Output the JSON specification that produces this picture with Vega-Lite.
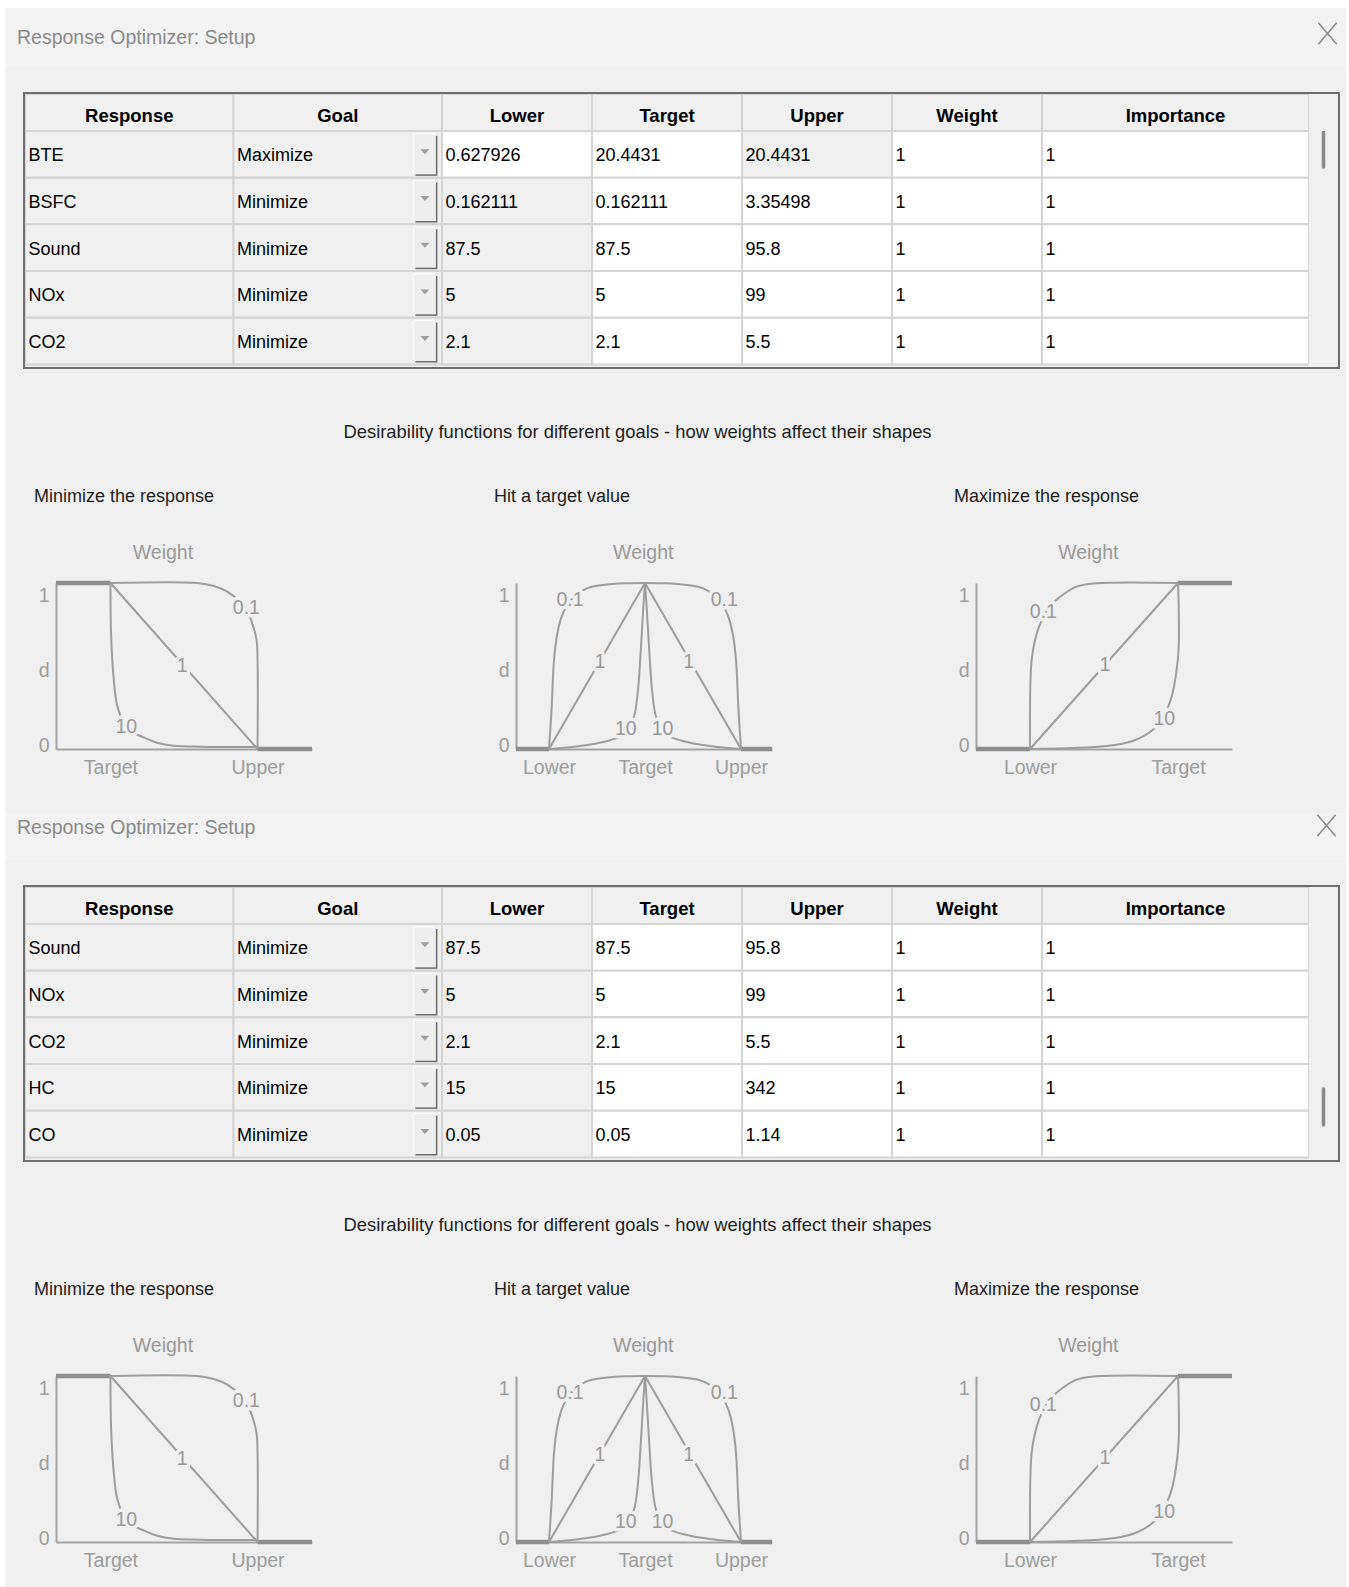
{
  "$schema": "https://vega.github.io/schema/vega-lite/v6.json",
  "background": "#f0f0f0",
  "padding": 0,
  "spacing": 0,
  "config": {
    "view": {"stroke": null, "fill": "#f0f0f0"},
    "font": "Liberation Sans, Arial, sans-serif",
    "concat": {"spacing": 0},
    "title": {"fontSize": 18, "fontWeight": "normal", "color": "#1e1e1e", "anchor": "start", "frame": "group", "offset": 37, "dx": -22},
    "axis": {"domainColor": "#a3a3a3", "domainWidth": 2, "ticks": false, "grid": false, "labelFontSize": 19.5, "labelColor": "#9d9d9d", "labelFlush": false, "labelOverlap": false, "labelBound": false},
    "axisX": {"labelPadding": 9},
    "axisY": {"labelPadding": 7}
  },
  "datasets": {
    "tbl": [
      {"t": 1, "r": 1, "Response": "BTE", "Goal": "Maximize", "Lower": "0.627926", "Target": "20.4431", "Upper": "20.4431", "Weight": "1", "Importance": "1"},
      {"t": 1, "r": 2, "Response": "BSFC", "Goal": "Minimize", "Lower": "0.162111", "Target": "0.162111", "Upper": "3.35498", "Weight": "1", "Importance": "1"},
      {"t": 1, "r": 3, "Response": "Sound", "Goal": "Minimize", "Lower": "87.5", "Target": "87.5", "Upper": "95.8", "Weight": "1", "Importance": "1"},
      {"t": 1, "r": 4, "Response": "NOx", "Goal": "Minimize", "Lower": "5", "Target": "5", "Upper": "99", "Weight": "1", "Importance": "1"},
      {"t": 1, "r": 5, "Response": "CO2", "Goal": "Minimize", "Lower": "2.1", "Target": "2.1", "Upper": "5.5", "Weight": "1", "Importance": "1"},
      {"t": 2, "r": 1, "Response": "Sound", "Goal": "Minimize", "Lower": "87.5", "Target": "87.5", "Upper": "95.8", "Weight": "1", "Importance": "1"},
      {"t": 2, "r": 2, "Response": "NOx", "Goal": "Minimize", "Lower": "5", "Target": "5", "Upper": "99", "Weight": "1", "Importance": "1"},
      {"t": 2, "r": 3, "Response": "CO2", "Goal": "Minimize", "Lower": "2.1", "Target": "2.1", "Upper": "5.5", "Weight": "1", "Importance": "1"},
      {"t": 2, "r": 4, "Response": "HC", "Goal": "Minimize", "Lower": "15", "Target": "15", "Upper": "342", "Weight": "1", "Importance": "1"},
      {"t": 2, "r": 5, "Response": "CO", "Goal": "Minimize", "Lower": "0.05", "Target": "0.05", "Upper": "1.14", "Weight": "1", "Importance": "1"}
    ],
    "curves": [
      {"p": "min", "w": "1", "s": "a", "i": 0, "x": 0, "d": 1},
      {"p": "min", "w": "1", "s": "a", "i": 1, "x": 1, "d": 0},
      {"p": "min", "w": "0.1", "s": "a", "i": 0, "x": 0, "d": 1},
      {"p": "min", "w": "0.1", "s": "a", "i": 1, "x": 0.59, "d": 1},
      {"p": "min", "w": "0.1", "s": "a", "i": 2, "x": 0.703, "d": 0.982},
      {"p": "min", "w": "0.1", "s": "a", "i": 3, "x": 0.794, "d": 0.948},
      {"p": "min", "w": "0.1", "s": "a", "i": 4, "x": 0.87, "d": 0.895},
      {"p": "min", "w": "0.1", "s": "a", "i": 5, "x": 0.93, "d": 0.83},
      {"p": "min", "w": "0.1", "s": "a", "i": 6, "x": 0.964, "d": 0.757},
      {"p": "min", "w": "0.1", "s": "a", "i": 7, "x": 0.993, "d": 0.657},
      {"p": "min", "w": "0.1", "s": "a", "i": 8, "x": 1, "d": 0.536},
      {"p": "min", "w": "0.1", "s": "a", "i": 9, "x": 1, "d": 0},
      {"p": "min", "w": "10", "s": "a", "i": 0, "x": 0, "d": 1},
      {"p": "min", "w": "10", "s": "a", "i": 1, "x": 0.005, "d": 0.676},
      {"p": "min", "w": "10", "s": "a", "i": 2, "x": 0.023, "d": 0.416},
      {"p": "min", "w": "10", "s": "a", "i": 3, "x": 0.045, "d": 0.265},
      {"p": "min", "w": "10", "s": "a", "i": 4, "x": 0.09, "d": 0.16},
      {"p": "min", "w": "10", "s": "a", "i": 5, "x": 0.15, "d": 0.1},
      {"p": "min", "w": "10", "s": "a", "i": 6, "x": 0.215, "d": 0.074},
      {"p": "min", "w": "10", "s": "a", "i": 7, "x": 0.317, "d": 0.038},
      {"p": "min", "w": "10", "s": "a", "i": 8, "x": 0.43, "d": 0.02},
      {"p": "min", "w": "10", "s": "a", "i": 9, "x": 0.61, "d": 0.014},
      {"p": "min", "w": "10", "s": "a", "i": 10, "x": 1, "d": 0.012},
      {"p": "tgt", "w": "1", "s": "L", "i": 0, "x": -1, "d": 0},
      {"p": "tgt", "w": "1", "s": "L", "i": 1, "x": 0, "d": 1},
      {"p": "tgt", "w": "1", "s": "R", "i": 0, "x": 0, "d": 1},
      {"p": "tgt", "w": "1", "s": "R", "i": 1, "x": 1, "d": 0},
      {"p": "tgt", "w": "0.1", "s": "L", "i": 0, "x": -1, "d": 0},
      {"p": "tgt", "w": "0.1", "s": "L", "i": 1, "x": -0.972, "d": 0.255},
      {"p": "tgt", "w": "0.1", "s": "L", "i": 2, "x": -0.948, "d": 0.536},
      {"p": "tgt", "w": "0.1", "s": "L", "i": 3, "x": -0.913, "d": 0.697},
      {"p": "tgt", "w": "0.1", "s": "L", "i": 4, "x": -0.868, "d": 0.797},
      {"p": "tgt", "w": "0.1", "s": "L", "i": 5, "x": -0.799, "d": 0.878},
      {"p": "tgt", "w": "0.1", "s": "L", "i": 6, "x": -0.694, "d": 0.938},
      {"p": "tgt", "w": "0.1", "s": "L", "i": 7, "x": -0.607, "d": 0.968},
      {"p": "tgt", "w": "0.1", "s": "L", "i": 8, "x": -0.434, "d": 0.988},
      {"p": "tgt", "w": "0.1", "s": "L", "i": 9, "x": -0.19, "d": 0.998},
      {"p": "tgt", "w": "0.1", "s": "L", "i": 10, "x": 0, "d": 1},
      {"p": "tgt", "w": "0.1", "s": "R", "i": 0, "x": 1, "d": 0},
      {"p": "tgt", "w": "0.1", "s": "R", "i": 1, "x": 0.972, "d": 0.255},
      {"p": "tgt", "w": "0.1", "s": "R", "i": 2, "x": 0.948, "d": 0.536},
      {"p": "tgt", "w": "0.1", "s": "R", "i": 3, "x": 0.913, "d": 0.697},
      {"p": "tgt", "w": "0.1", "s": "R", "i": 4, "x": 0.868, "d": 0.797},
      {"p": "tgt", "w": "0.1", "s": "R", "i": 5, "x": 0.799, "d": 0.878},
      {"p": "tgt", "w": "0.1", "s": "R", "i": 6, "x": 0.694, "d": 0.938},
      {"p": "tgt", "w": "0.1", "s": "R", "i": 7, "x": 0.607, "d": 0.968},
      {"p": "tgt", "w": "0.1", "s": "R", "i": 8, "x": 0.434, "d": 0.988},
      {"p": "tgt", "w": "0.1", "s": "R", "i": 9, "x": 0.19, "d": 0.998},
      {"p": "tgt", "w": "0.1", "s": "R", "i": 10, "x": 0, "d": 1},
      {"p": "tgt", "w": "10", "s": "L", "i": 0, "x": -1, "d": 0},
      {"p": "tgt", "w": "10", "s": "L", "i": 1, "x": -0.677, "d": 0.018},
      {"p": "tgt", "w": "10", "s": "L", "i": 2, "x": -0.382, "d": 0.05},
      {"p": "tgt", "w": "10", "s": "L", "i": 3, "x": -0.226, "d": 0.084},
      {"p": "tgt", "w": "10", "s": "L", "i": 4, "x": -0.139, "d": 0.155},
      {"p": "tgt", "w": "10", "s": "L", "i": 5, "x": -0.104, "d": 0.219},
      {"p": "tgt", "w": "10", "s": "L", "i": 6, "x": -0.07, "d": 0.375},
      {"p": "tgt", "w": "10", "s": "L", "i": 7, "x": -0.042, "d": 0.616},
      {"p": "tgt", "w": "10", "s": "L", "i": 8, "x": -0.017, "d": 0.857},
      {"p": "tgt", "w": "10", "s": "L", "i": 9, "x": 0, "d": 1},
      {"p": "tgt", "w": "10", "s": "R", "i": 0, "x": 1, "d": 0},
      {"p": "tgt", "w": "10", "s": "R", "i": 1, "x": 0.677, "d": 0.018},
      {"p": "tgt", "w": "10", "s": "R", "i": 2, "x": 0.382, "d": 0.05},
      {"p": "tgt", "w": "10", "s": "R", "i": 3, "x": 0.226, "d": 0.084},
      {"p": "tgt", "w": "10", "s": "R", "i": 4, "x": 0.139, "d": 0.155},
      {"p": "tgt", "w": "10", "s": "R", "i": 5, "x": 0.104, "d": 0.219},
      {"p": "tgt", "w": "10", "s": "R", "i": 6, "x": 0.07, "d": 0.375},
      {"p": "tgt", "w": "10", "s": "R", "i": 7, "x": 0.042, "d": 0.616},
      {"p": "tgt", "w": "10", "s": "R", "i": 8, "x": 0.017, "d": 0.857},
      {"p": "tgt", "w": "10", "s": "R", "i": 9, "x": 0, "d": 1},
      {"p": "max", "w": "1", "s": "a", "i": 0, "x": 0, "d": 0},
      {"p": "max", "w": "1", "s": "a", "i": 1, "x": 1, "d": 1},
      {"p": "max", "w": "0.1", "s": "a", "i": 0, "x": 0, "d": 0},
      {"p": "max", "w": "0.1", "s": "a", "i": 1, "x": 0.002, "d": 0.375},
      {"p": "max", "w": "0.1", "s": "a", "i": 2, "x": 0.011, "d": 0.536},
      {"p": "max", "w": "0.1", "s": "a", "i": 3, "x": 0.034, "d": 0.657},
      {"p": "max", "w": "0.1", "s": "a", "i": 4, "x": 0.063, "d": 0.741},
      {"p": "max", "w": "0.1", "s": "a", "i": 5, "x": 0.124, "d": 0.848},
      {"p": "max", "w": "0.1", "s": "a", "i": 6, "x": 0.191, "d": 0.908},
      {"p": "max", "w": "0.1", "s": "a", "i": 7, "x": 0.315, "d": 0.978},
      {"p": "max", "w": "0.1", "s": "a", "i": 8, "x": 0.45, "d": 0.998},
      {"p": "max", "w": "0.1", "s": "a", "i": 9, "x": 1, "d": 1},
      {"p": "max", "w": "10", "s": "a", "i": 0, "x": 0, "d": 0},
      {"p": "max", "w": "10", "s": "a", "i": 1, "x": 0.518, "d": 0.018},
      {"p": "max", "w": "10", "s": "a", "i": 2, "x": 0.698, "d": 0.05},
      {"p": "max", "w": "10", "s": "a", "i": 3, "x": 0.822, "d": 0.11},
      {"p": "max", "w": "10", "s": "a", "i": 4, "x": 0.901, "d": 0.195},
      {"p": "max", "w": "10", "s": "a", "i": 5, "x": 0.957, "d": 0.315},
      {"p": "max", "w": "10", "s": "a", "i": 6, "x": 0.991, "d": 0.476},
      {"p": "max", "w": "10", "s": "a", "i": 7, "x": 1.005, "d": 0.616},
      {"p": "max", "w": "10", "s": "a", "i": 8, "x": 1.005, "d": 0.85},
      {"p": "max", "w": "10", "s": "a", "i": 9, "x": 1, "d": 1}
    ],
    "flat": [
      {"p": "min", "seg": "a", "x": -0.37, "d": 1},
      {"p": "min", "seg": "a", "x": 0, "d": 1},
      {"p": "min", "seg": "b", "x": 1, "d": 0},
      {"p": "min", "seg": "b", "x": 1.37, "d": 0},
      {"p": "tgt", "seg": "a", "x": -1.344, "d": 0},
      {"p": "tgt", "seg": "a", "x": -1, "d": 0},
      {"p": "tgt", "seg": "b", "x": 1, "d": 0},
      {"p": "tgt", "seg": "b", "x": 1.323, "d": 0},
      {"p": "max", "seg": "a", "x": -0.365, "d": 0},
      {"p": "max", "seg": "a", "x": 0, "d": 0},
      {"p": "max", "seg": "b", "x": 1, "d": 1},
      {"p": "max", "seg": "b", "x": 1.365, "d": 1}
    ],
    "labels": [
      {"p": "min", "t": "Weight", "x": 0.357, "d": 1.18},
      {"p": "min", "t": "0.1", "x": 0.924, "d": 0.852},
      {"p": "min", "t": "1", "x": 0.488, "d": 0.501},
      {"p": "min", "t": "10", "x": 0.108, "d": 0.134},
      {"p": "tgt", "t": "Weight", "x": -0.018, "d": 1.18},
      {"p": "tgt", "t": "0.1", "x": -0.781, "d": 0.898},
      {"p": "tgt", "t": "0.1", "x": 0.825, "d": 0.898},
      {"p": "tgt", "t": "1", "x": -0.469, "d": 0.526},
      {"p": "tgt", "t": "1", "x": 0.455, "d": 0.526},
      {"p": "tgt", "t": "10", "x": -0.2, "d": 0.119},
      {"p": "tgt", "t": "10", "x": 0.182, "d": 0.119},
      {"p": "max", "t": "Weight", "x": 0.394, "d": 1.18},
      {"p": "max", "t": "0.1", "x": 0.09, "d": 0.827},
      {"p": "max", "t": "1", "x": 0.507, "d": 0.506},
      {"p": "max", "t": "10", "x": 0.907, "d": 0.18}
    ]
  },
  "hconcat": [
    {"width": 5, "height": 1587, "view": {"fill": "#ffffff"}, "data": {"values": []}, "mark": "point"},
    {
      "spacing": 0,
      "vconcat": [
        {"width": 1341, "height": 8, "view": {"fill": "#ffffff"}, "data": {"values": []}, "mark": "point"},
        {
          "width": 1341, "height": 59, "view": {"fill": "#f3f3f3"},
          "data": {"values": [{"title": "Response Optimizer: Setup"}]},
          "encoding": {"y": {"datum": 0.5, "type": "quantitative", "scale": {"domain": [0, 1]}, "axis": null}},
          "layer": [
            {"mark": {"type": "text", "align": "left", "baseline": "middle", "dx": 12, "fontSize": 19.5, "color": "#8a8a8a", "clip": true},
             "encoding": {"x": {"datum": 0, "type": "quantitative", "scale": {"domain": [0, 1]}, "axis": null}, "text": {"field": "title", "type": "nominal"}}},
            {"mark": {"type": "point", "shape": "M-0.86,-1L0.86,1M-0.86,1L0.86,-1", "size": 454, "filled": false, "color": "#8c8c8c", "opacity": 1, "strokeWidth": 1.6, "xOffset": -18.5, "yOffset": -4, "clip": true},
             "encoding": {"x": {"datum": 1, "type": "quantitative", "scale": {"domain": [0, 1]}, "axis": null}}}
          ]
        },
        {"width": 1341, "height": 25, "data": {"values": []}, "mark": "point"},
        {"spacing": 0, "bounds": "flush", "hconcat": [
          {"width": 18, "height": 2, "data": {"values": []}, "mark": "point"},
          {"width": 1317, "height": 2, "view": {"fill": "#6e6e6e"}, "data": {"values": []}, "mark": "point"},
          {"width": 6, "height": 2, "data": {"values": []}, "mark": "point"}
        ]},
        {"spacing": 0, "bounds": "flush", "hconcat": [
          {"width": 18, "height": 37, "data": {"values": []}, "mark": "point"},
          {"width": 2, "height": 37, "view": {"fill": "#6e6e6e"}, "data": {"values": []}, "mark": "point"},
          {"width": 417, "height": 37, "data": {"values": [{"col": "Response"}, {"col": "Goal"}]},
           "encoding": {"x": {"field": "col", "type": "nominal", "scale": {"domain": ["Response", "Goal"], "paddingInner": 0, "paddingOuter": 0}, "axis": null}},
           "layer": [
             {"mark": {"type": "rect", "fill": "#f0f0f0", "stroke": "#d4d4d4", "strokeWidth": 2, "clip": true}},
             {"mark": {"type": "text", "fontWeight": "bold", "fontSize": 18.5, "color": "#000000", "dy": 3, "clip": true}, "encoding": {"text": {"field": "col", "type": "nominal"}}}
           ]},
          {"width": 600, "height": 37, "data": {"values": [{"col": "Lower"}, {"col": "Target"}, {"col": "Upper"}, {"col": "Weight"}]},
           "encoding": {"x": {"field": "col", "type": "nominal", "scale": {"domain": ["Lower", "Target", "Upper", "Weight"], "paddingInner": 0, "paddingOuter": 0}, "axis": null}},
           "layer": [
             {"mark": {"type": "rect", "fill": "#f0f0f0", "stroke": "#d4d4d4", "strokeWidth": 2, "clip": true}},
             {"mark": {"type": "text", "fontWeight": "bold", "fontSize": 18.5, "color": "#000000", "dy": 3, "clip": true}, "encoding": {"text": {"field": "col", "type": "nominal"}}}
           ]},
          {"width": 267, "height": 37, "data": {"values": [{"col": "Importance"}]},
           "encoding": {"x": {"field": "col", "type": "nominal", "scale": {"domain": ["Importance"], "paddingInner": 0, "paddingOuter": 0}, "axis": null}},
           "layer": [
             {"mark": {"type": "rect", "fill": "#f0f0f0", "stroke": "#d4d4d4", "strokeWidth": 2, "clip": true}},
             {"mark": {"type": "text", "fontWeight": "bold", "fontSize": 18.5, "color": "#000000", "dy": 3, "clip": true}, "encoding": {"text": {"field": "col", "type": "nominal"}}}
           ]},
          {"width": 29, "height": 37, "data": {"values": []}, "mark": "point"},
          {"width": 2, "height": 37, "view": {"fill": "#6e6e6e"}, "data": {"values": []}, "mark": "point"},
          {"width": 6, "height": 37, "data": {"values": []}, "mark": "point"}
        ]},
        {"spacing": 0, "bounds": "flush", "hconcat": [
          {"width": 18, "height": 236, "data": {"values": []}, "mark": "point"},
          {"width": 2, "height": 236, "view": {"fill": "#6e6e6e"}, "data": {"values": []}, "mark": "point"},
          {"width": 417, "height": 236, "data": {"name": "tbl"},
           "transform": [{"filter": "datum.t == 1"}, {"fold": ["Response", "Goal"], "as": ["col", "v"]}],
           "encoding": {
             "x": {"field": "col", "type": "nominal", "scale": {"domain": ["Response", "Goal"], "paddingInner": 0, "paddingOuter": 0}, "axis": null},
             "y": {"field": "r", "type": "ordinal", "scale": {"domain": [1, 2, 3, 4, 5], "paddingInner": 0, "paddingOuter": 0.028, "align": 0}, "axis": null}
           },
           "layer": [
             {"mark": {"type": "rect", "stroke": "#d4d4d4", "strokeWidth": 2, "fill": "#f0f0f0", "clip": true}},
             {"mark": {"type": "text", "align": "left", "dx": 3.5, "dy": 2, "fontSize": 18, "color": "#000000", "clip": true},
              "encoding": {"x": {"field": "col", "type": "nominal", "bandPosition": 0, "scale": {"domain": ["Response", "Goal"], "paddingInner": 0, "paddingOuter": 0}, "axis": null}, "text": {"field": "v", "type": "nominal"}}},
             {"transform": [{"filter": "datum.col == 'Goal'"}],
              "mark": {"type": "point", "shape": "M-0.55,-1H0.55V1H-0.55Z", "size": 1600, "filled": true, "color": "#ffffff", "opacity": 1, "xOffset": -1, "yOffset": -1, "clip": true},
              "encoding": {"x": {"field": "col", "type": "nominal", "bandPosition": 0.918, "scale": {"domain": ["Response", "Goal"], "paddingInner": 0, "paddingOuter": 0}, "axis": null}}},
             {"transform": [{"filter": "datum.col == 'Goal'"}],
              "mark": {"type": "point", "shape": "M-0.55,-1H0.55V1H-0.55Z", "size": 1600, "filled": true, "color": "#6b6b6b", "opacity": 1, "xOffset": 1.5, "yOffset": 1.5, "clip": true},
              "encoding": {"x": {"field": "col", "type": "nominal", "bandPosition": 0.918, "scale": {"domain": ["Response", "Goal"], "paddingInner": 0, "paddingOuter": 0}, "axis": null}}},
             {"transform": [{"filter": "datum.col == 'Goal'"}],
              "mark": {"type": "point", "shape": "M-0.55,-1H0.55V1H-0.55Z", "size": 1600, "filled": true, "color": "#eeeeee", "opacity": 1, "clip": true},
              "encoding": {"x": {"field": "col", "type": "nominal", "bandPosition": 0.918, "scale": {"domain": ["Response", "Goal"], "paddingInner": 0, "paddingOuter": 0}, "axis": null}}},
             {"transform": [{"filter": "datum.col == 'Goal'"}],
              "mark": {"type": "point", "shape": "M-1,-0.55L1,-0.55L0,0.55Z", "size": 81, "filled": true, "color": "#9e9e9e", "opacity": 1, "yOffset": -2.5, "clip": true},
              "encoding": {"x": {"field": "col", "type": "nominal", "bandPosition": 0.918, "scale": {"domain": ["Response", "Goal"], "paddingInner": 0, "paddingOuter": 0}, "axis": null}}}
           ]},
          {"width": 600, "height": 236, "data": {"name": "tbl"},
           "transform": [{"filter": "datum.t == 1"}, {"fold": ["Lower", "Target", "Upper", "Weight"], "as": ["col", "v"]}],
           "encoding": {
             "x": {"field": "col", "type": "nominal", "scale": {"domain": ["Lower", "Target", "Upper", "Weight"], "paddingInner": 0, "paddingOuter": 0}, "axis": null},
             "y": {"field": "r", "type": "ordinal", "scale": {"domain": [1, 2, 3, 4, 5], "paddingInner": 0, "paddingOuter": 0.028, "align": 0}, "axis": null}
           },
           "layer": [
             {"mark": {"type": "rect", "stroke": "#d4d4d4", "strokeWidth": 2, "clip": true},
              "encoding": {"fill": {"condition": {"test": "(datum.col == 'Lower' && datum.Goal == 'Minimize') || (datum.col == 'Upper' && datum.Goal == 'Maximize')", "value": "#f0f0f0"}, "value": "#ffffff"}}},
             {"mark": {"type": "text", "align": "left", "dx": 3.5, "dy": 2, "fontSize": 18, "color": "#000000", "clip": true},
              "encoding": {"x": {"field": "col", "type": "nominal", "bandPosition": 0, "scale": {"domain": ["Lower", "Target", "Upper", "Weight"], "paddingInner": 0, "paddingOuter": 0}, "axis": null}, "text": {"field": "v", "type": "nominal"}}}
           ]},
          {"width": 267, "height": 236, "data": {"name": "tbl"},
           "transform": [{"filter": "datum.t == 1"}, {"fold": ["Importance"], "as": ["col", "v"]}],
           "encoding": {
             "x": {"field": "col", "type": "nominal", "scale": {"domain": ["Importance"], "paddingInner": 0, "paddingOuter": 0}, "axis": null},
             "y": {"field": "r", "type": "ordinal", "scale": {"domain": [1, 2, 3, 4, 5], "paddingInner": 0, "paddingOuter": 0.028, "align": 0}, "axis": null}
           },
           "layer": [
             {"mark": {"type": "rect", "stroke": "#d4d4d4", "strokeWidth": 2, "fill": "#ffffff", "clip": true}},
             {"mark": {"type": "text", "align": "left", "dx": 3.5, "dy": 2, "fontSize": 18, "color": "#000000", "clip": true},
              "encoding": {"x": {"field": "col", "type": "nominal", "bandPosition": 0, "scale": {"domain": ["Importance"], "paddingInner": 0, "paddingOuter": 0}, "axis": null}, "text": {"field": "v", "type": "nominal"}}}
           ]},
          {"width": 29, "height": 236, "data": {"values": [{"a": 0.004, "b": 0.153}]},
           "mark": {"type": "rule", "color": "#8a8a8a", "strokeWidth": 3.5, "strokeCap": "round", "clip": true},
           "encoding": {
             "x": {"datum": 0.5, "type": "quantitative", "scale": {"domain": [0, 1]}, "axis": null},
             "y": {"field": "a", "type": "quantitative", "scale": {"domain": [0, 1], "reverse": true, "nice": false}, "axis": null},
             "y2": {"field": "b"}
           }},
          {"width": 2, "height": 236, "view": {"fill": "#6e6e6e"}, "data": {"values": []}, "mark": "point"},
          {"width": 6, "height": 236, "data": {"values": []}, "mark": "point"}
        ]},
        {"spacing": 0, "bounds": "flush", "hconcat": [
          {"width": 18, "height": 2, "data": {"values": []}, "mark": "point"},
          {"width": 1317, "height": 2, "view": {"fill": "#6e6e6e"}, "data": {"values": []}, "mark": "point"},
          {"width": 6, "height": 2, "data": {"values": []}, "mark": "point"}
        ]},
        {"width": 1341, "height": 119,
         "data": {"values": [{"caption": "Desirability functions for different goals - how weights affect their shapes"}]},
         "mark": {"type": "text", "fontSize": 18.4, "color": "#1e1e1e", "dx": -38, "dy": 3.5, "baseline": "middle", "align": "center", "clip": true},
         "encoding": {
           "x": {"datum": 0.5, "type": "quantitative", "scale": {"domain": [0, 1]}, "axis": null},
           "y": {"datum": 0.5, "type": "quantitative", "scale": {"domain": [0, 1]}, "axis": null},
           "text": {"field": "caption", "type": "nominal"}
         }},
        {"spacing": 0, "bounds": "flush", "hconcat": [
          {"width": 51, "height": 166, "data": {"values": []}, "mark": "point"},
          {"width": 256, "height": 166, "title": {"text": "Minimize the response"},
           "encoding": {
             "x": {"field": "x", "type": "quantitative", "scale": {"domain": [-0.37, 1.37], "nice": false, "zero": false}, "axis": {"values": [0, 1], "labelExpr": "datum.value == 0 ? 'Target' : 'Upper'", "title": null}},
             "y": {"field": "d", "type": "quantitative", "scale": {"domain": [0, 1], "nice": false, "zero": false}, "axis": {"values": [0, 0.5, 1], "labelExpr": "datum.value == 1 ? '1' : (datum.value == 0 ? '0' : 'd')", "labelOffset": {"condition": [{"test": "datum.value == 1", "value": 12}, {"test": "datum.value == 0", "value": -4}], "value": 4}, "title": null}}
           },
           "layer": [
             {"data": {"name": "flat"}, "transform": [{"filter": "datum.p == 'min'"}], "mark": {"type": "line", "color": "#8e8e8e", "strokeWidth": 4.5}, "encoding": {"detail": {"field": "seg", "type": "nominal"}}},
             {"data": {"name": "curves"}, "transform": [{"filter": "datum.p == 'min'"}], "mark": {"type": "line", "color": "#9d9d9d", "strokeWidth": 2, "interpolate": "catmull-rom"}, "encoding": {"detail": [{"field": "w", "type": "nominal"}, {"field": "s", "type": "nominal"}], "order": {"field": "i", "type": "quantitative"}}},
             {"data": {"name": "labels"}, "transform": [{"filter": "datum.p == 'min'"}], "mark": {"type": "text", "fontSize": 19.5, "fill": "#f0f0f0", "stroke": "#f0f0f0", "strokeWidth": 7, "strokeJoin": "round"}, "encoding": {"text": {"field": "t", "type": "nominal"}}},
             {"data": {"name": "labels"}, "transform": [{"filter": "datum.p == 'min'"}], "mark": {"type": "text", "fontSize": 19.5, "color": "#999999"}, "encoding": {"text": {"field": "t", "type": "nominal"}}}
           ]},
          {"width": 204, "height": 166, "data": {"values": []}, "mark": "point"},
          {"width": 256, "height": 166, "title": {"text": "Hit a target value"},
           "encoding": {
             "x": {"field": "x", "type": "quantitative", "scale": {"domain": [-1.344, 1.323], "nice": false, "zero": false}, "axis": {"values": [-1, 0, 1], "labelExpr": "datum.value < -0.5 ? 'Lower' : (datum.value > 0.5 ? 'Upper' : 'Target')", "title": null}},
             "y": {"field": "d", "type": "quantitative", "scale": {"domain": [0, 1], "nice": false, "zero": false}, "axis": {"values": [0, 0.5, 1], "labelExpr": "datum.value == 1 ? '1' : (datum.value == 0 ? '0' : 'd')", "labelOffset": {"condition": [{"test": "datum.value == 1", "value": 12}, {"test": "datum.value == 0", "value": -4}], "value": 4}, "title": null}}
           },
           "layer": [
             {"data": {"name": "flat"}, "transform": [{"filter": "datum.p == 'tgt'"}], "mark": {"type": "line", "color": "#8e8e8e", "strokeWidth": 4.5}, "encoding": {"detail": {"field": "seg", "type": "nominal"}}},
             {"data": {"name": "curves"}, "transform": [{"filter": "datum.p == 'tgt'"}], "mark": {"type": "line", "color": "#9d9d9d", "strokeWidth": 2, "interpolate": "catmull-rom"}, "encoding": {"detail": [{"field": "w", "type": "nominal"}, {"field": "s", "type": "nominal"}], "order": {"field": "i", "type": "quantitative"}}},
             {"data": {"name": "labels"}, "transform": [{"filter": "datum.p == 'tgt'"}], "mark": {"type": "text", "fontSize": 19.5, "fill": "#f0f0f0", "stroke": "#f0f0f0", "strokeWidth": 7, "strokeJoin": "round"}, "encoding": {"text": {"field": "t", "type": "nominal"}}},
             {"data": {"name": "labels"}, "transform": [{"filter": "datum.p == 'tgt'"}], "mark": {"type": "text", "fontSize": 19.5, "color": "#999999"}, "encoding": {"text": {"field": "t", "type": "nominal"}}}
           ]},
          {"width": 204, "height": 166, "data": {"values": []}, "mark": "point"},
          {"width": 256, "height": 166, "title": {"text": "Maximize the response"},
           "encoding": {
             "x": {"field": "x", "type": "quantitative", "scale": {"domain": [-0.365, 1.365], "nice": false, "zero": false}, "axis": {"values": [0, 1], "labelExpr": "datum.value == 0 ? 'Lower' : 'Target'", "title": null}},
             "y": {"field": "d", "type": "quantitative", "scale": {"domain": [0, 1], "nice": false, "zero": false}, "axis": {"values": [0, 0.5, 1], "labelExpr": "datum.value == 1 ? '1' : (datum.value == 0 ? '0' : 'd')", "labelOffset": {"condition": [{"test": "datum.value == 1", "value": 12}, {"test": "datum.value == 0", "value": -4}], "value": 4}, "title": null}}
           },
           "layer": [
             {"data": {"name": "flat"}, "transform": [{"filter": "datum.p == 'max'"}], "mark": {"type": "line", "color": "#8e8e8e", "strokeWidth": 4.5}, "encoding": {"detail": {"field": "seg", "type": "nominal"}}},
             {"data": {"name": "curves"}, "transform": [{"filter": "datum.p == 'max'"}], "mark": {"type": "line", "color": "#9d9d9d", "strokeWidth": 2, "interpolate": "catmull-rom"}, "encoding": {"detail": [{"field": "w", "type": "nominal"}, {"field": "s", "type": "nominal"}], "order": {"field": "i", "type": "quantitative"}}},
             {"data": {"name": "labels"}, "transform": [{"filter": "datum.p == 'max'"}], "mark": {"type": "text", "fontSize": 19.5, "fill": "#f0f0f0", "stroke": "#f0f0f0", "strokeWidth": 7, "strokeJoin": "round"}, "encoding": {"text": {"field": "t", "type": "nominal"}}},
             {"data": {"name": "labels"}, "transform": [{"filter": "datum.p == 'max'"}], "mark": {"type": "text", "fontSize": 19.5, "color": "#999999"}, "encoding": {"text": {"field": "t", "type": "nominal"}}}
           ]},
          {"width": 114, "height": 166, "data": {"values": []}, "mark": "point"}
        ]},
        {"width": 1341, "height": 36, "data": {"values": []}, "mark": "point"},
        {
          "width": 1341, "height": 47, "view": {"fill": "#f3f3f3"},
          "data": {"values": [{"title": "Response Optimizer: Setup"}]},
          "encoding": {"y": {"datum": 0.5, "type": "quantitative", "scale": {"domain": [0, 1]}, "axis": null}},
          "layer": [
            {"mark": {"type": "text", "align": "left", "baseline": "middle", "dx": 12, "dy": -8.5, "fontSize": 19.5, "color": "#8a8a8a", "clip": true},
             "encoding": {"x": {"datum": 0, "type": "quantitative", "scale": {"domain": [0, 1]}, "axis": null}, "text": {"field": "title", "type": "nominal"}}},
            {"mark": {"type": "point", "shape": "M-0.86,-1L0.86,1M-0.86,1L0.86,-1", "size": 454, "filled": false, "color": "#8c8c8c", "opacity": 1, "strokeWidth": 1.6, "xOffset": -19.5, "yOffset": -11, "clip": true},
             "encoding": {"x": {"datum": 1, "type": "quantitative", "scale": {"domain": [0, 1]}, "axis": null}}}
          ]
        },
        {"width": 1341, "height": 25, "data": {"values": []}, "mark": "point"},
        {"spacing": 0, "bounds": "flush", "hconcat": [
          {"width": 18, "height": 2, "data": {"values": []}, "mark": "point"},
          {"width": 1317, "height": 2, "view": {"fill": "#6e6e6e"}, "data": {"values": []}, "mark": "point"},
          {"width": 6, "height": 2, "data": {"values": []}, "mark": "point"}
        ]},
        {"spacing": 0, "bounds": "flush", "hconcat": [
          {"width": 18, "height": 37, "data": {"values": []}, "mark": "point"},
          {"width": 2, "height": 37, "view": {"fill": "#6e6e6e"}, "data": {"values": []}, "mark": "point"},
          {"width": 417, "height": 37, "data": {"values": [{"col": "Response"}, {"col": "Goal"}]},
           "encoding": {"x": {"field": "col", "type": "nominal", "scale": {"domain": ["Response", "Goal"], "paddingInner": 0, "paddingOuter": 0}, "axis": null}},
           "layer": [
             {"mark": {"type": "rect", "fill": "#f0f0f0", "stroke": "#d4d4d4", "strokeWidth": 2, "clip": true}},
             {"mark": {"type": "text", "fontWeight": "bold", "fontSize": 18.5, "color": "#000000", "dy": 3, "clip": true}, "encoding": {"text": {"field": "col", "type": "nominal"}}}
           ]},
          {"width": 600, "height": 37, "data": {"values": [{"col": "Lower"}, {"col": "Target"}, {"col": "Upper"}, {"col": "Weight"}]},
           "encoding": {"x": {"field": "col", "type": "nominal", "scale": {"domain": ["Lower", "Target", "Upper", "Weight"], "paddingInner": 0, "paddingOuter": 0}, "axis": null}},
           "layer": [
             {"mark": {"type": "rect", "fill": "#f0f0f0", "stroke": "#d4d4d4", "strokeWidth": 2, "clip": true}},
             {"mark": {"type": "text", "fontWeight": "bold", "fontSize": 18.5, "color": "#000000", "dy": 3, "clip": true}, "encoding": {"text": {"field": "col", "type": "nominal"}}}
           ]},
          {"width": 267, "height": 37, "data": {"values": [{"col": "Importance"}]},
           "encoding": {"x": {"field": "col", "type": "nominal", "scale": {"domain": ["Importance"], "paddingInner": 0, "paddingOuter": 0}, "axis": null}},
           "layer": [
             {"mark": {"type": "rect", "fill": "#f0f0f0", "stroke": "#d4d4d4", "strokeWidth": 2, "clip": true}},
             {"mark": {"type": "text", "fontWeight": "bold", "fontSize": 18.5, "color": "#000000", "dy": 3, "clip": true}, "encoding": {"text": {"field": "col", "type": "nominal"}}}
           ]},
          {"width": 29, "height": 37, "data": {"values": []}, "mark": "point"},
          {"width": 2, "height": 37, "view": {"fill": "#6e6e6e"}, "data": {"values": []}, "mark": "point"},
          {"width": 6, "height": 37, "data": {"values": []}, "mark": "point"}
        ]},
        {"spacing": 0, "bounds": "flush", "hconcat": [
          {"width": 18, "height": 236, "data": {"values": []}, "mark": "point"},
          {"width": 2, "height": 236, "view": {"fill": "#6e6e6e"}, "data": {"values": []}, "mark": "point"},
          {"width": 417, "height": 236, "data": {"name": "tbl"},
           "transform": [{"filter": "datum.t == 2"}, {"fold": ["Response", "Goal"], "as": ["col", "v"]}],
           "encoding": {
             "x": {"field": "col", "type": "nominal", "scale": {"domain": ["Response", "Goal"], "paddingInner": 0, "paddingOuter": 0}, "axis": null},
             "y": {"field": "r", "type": "ordinal", "scale": {"domain": [1, 2, 3, 4, 5], "paddingInner": 0, "paddingOuter": 0.028, "align": 0}, "axis": null}
           },
           "layer": [
             {"mark": {"type": "rect", "stroke": "#d4d4d4", "strokeWidth": 2, "fill": "#f0f0f0", "clip": true}},
             {"mark": {"type": "text", "align": "left", "dx": 3.5, "dy": 2, "fontSize": 18, "color": "#000000", "clip": true},
              "encoding": {"x": {"field": "col", "type": "nominal", "bandPosition": 0, "scale": {"domain": ["Response", "Goal"], "paddingInner": 0, "paddingOuter": 0}, "axis": null}, "text": {"field": "v", "type": "nominal"}}},
             {"transform": [{"filter": "datum.col == 'Goal'"}],
              "mark": {"type": "point", "shape": "M-0.55,-1H0.55V1H-0.55Z", "size": 1600, "filled": true, "color": "#ffffff", "opacity": 1, "xOffset": -1, "yOffset": -1, "clip": true},
              "encoding": {"x": {"field": "col", "type": "nominal", "bandPosition": 0.918, "scale": {"domain": ["Response", "Goal"], "paddingInner": 0, "paddingOuter": 0}, "axis": null}}},
             {"transform": [{"filter": "datum.col == 'Goal'"}],
              "mark": {"type": "point", "shape": "M-0.55,-1H0.55V1H-0.55Z", "size": 1600, "filled": true, "color": "#6b6b6b", "opacity": 1, "xOffset": 1.5, "yOffset": 1.5, "clip": true},
              "encoding": {"x": {"field": "col", "type": "nominal", "bandPosition": 0.918, "scale": {"domain": ["Response", "Goal"], "paddingInner": 0, "paddingOuter": 0}, "axis": null}}},
             {"transform": [{"filter": "datum.col == 'Goal'"}],
              "mark": {"type": "point", "shape": "M-0.55,-1H0.55V1H-0.55Z", "size": 1600, "filled": true, "color": "#eeeeee", "opacity": 1, "clip": true},
              "encoding": {"x": {"field": "col", "type": "nominal", "bandPosition": 0.918, "scale": {"domain": ["Response", "Goal"], "paddingInner": 0, "paddingOuter": 0}, "axis": null}}},
             {"transform": [{"filter": "datum.col == 'Goal'"}],
              "mark": {"type": "point", "shape": "M-1,-0.55L1,-0.55L0,0.55Z", "size": 81, "filled": true, "color": "#9e9e9e", "opacity": 1, "yOffset": -2.5, "clip": true},
              "encoding": {"x": {"field": "col", "type": "nominal", "bandPosition": 0.918, "scale": {"domain": ["Response", "Goal"], "paddingInner": 0, "paddingOuter": 0}, "axis": null}}}
           ]},
          {"width": 600, "height": 236, "data": {"name": "tbl"},
           "transform": [{"filter": "datum.t == 2"}, {"fold": ["Lower", "Target", "Upper", "Weight"], "as": ["col", "v"]}],
           "encoding": {
             "x": {"field": "col", "type": "nominal", "scale": {"domain": ["Lower", "Target", "Upper", "Weight"], "paddingInner": 0, "paddingOuter": 0}, "axis": null},
             "y": {"field": "r", "type": "ordinal", "scale": {"domain": [1, 2, 3, 4, 5], "paddingInner": 0, "paddingOuter": 0.028, "align": 0}, "axis": null}
           },
           "layer": [
             {"mark": {"type": "rect", "stroke": "#d4d4d4", "strokeWidth": 2, "clip": true},
              "encoding": {"fill": {"condition": {"test": "(datum.col == 'Lower' && datum.Goal == 'Minimize') || (datum.col == 'Upper' && datum.Goal == 'Maximize')", "value": "#f0f0f0"}, "value": "#ffffff"}}},
             {"mark": {"type": "text", "align": "left", "dx": 3.5, "dy": 2, "fontSize": 18, "color": "#000000", "clip": true},
              "encoding": {"x": {"field": "col", "type": "nominal", "bandPosition": 0, "scale": {"domain": ["Lower", "Target", "Upper", "Weight"], "paddingInner": 0, "paddingOuter": 0}, "axis": null}, "text": {"field": "v", "type": "nominal"}}}
           ]},
          {"width": 267, "height": 236, "data": {"name": "tbl"},
           "transform": [{"filter": "datum.t == 2"}, {"fold": ["Importance"], "as": ["col", "v"]}],
           "encoding": {
             "x": {"field": "col", "type": "nominal", "scale": {"domain": ["Importance"], "paddingInner": 0, "paddingOuter": 0}, "axis": null},
             "y": {"field": "r", "type": "ordinal", "scale": {"domain": [1, 2, 3, 4, 5], "paddingInner": 0, "paddingOuter": 0.028, "align": 0}, "axis": null}
           },
           "layer": [
             {"mark": {"type": "rect", "stroke": "#d4d4d4", "strokeWidth": 2, "fill": "#ffffff", "clip": true}},
             {"mark": {"type": "text", "align": "left", "dx": 3.5, "dy": 2, "fontSize": 18, "color": "#000000", "clip": true},
              "encoding": {"x": {"field": "col", "type": "nominal", "bandPosition": 0, "scale": {"domain": ["Importance"], "paddingInner": 0, "paddingOuter": 0}, "axis": null}, "text": {"field": "v", "type": "nominal"}}}
           ]},
          {"width": 29, "height": 236, "data": {"values": [{"a": 0.699, "b": 0.852}]},
           "mark": {"type": "rule", "color": "#8a8a8a", "strokeWidth": 3.5, "strokeCap": "round", "clip": true},
           "encoding": {
             "x": {"datum": 0.5, "type": "quantitative", "scale": {"domain": [0, 1]}, "axis": null},
             "y": {"field": "a", "type": "quantitative", "scale": {"domain": [0, 1], "reverse": true, "nice": false}, "axis": null},
             "y2": {"field": "b"}
           }},
          {"width": 2, "height": 236, "view": {"fill": "#6e6e6e"}, "data": {"values": []}, "mark": "point"},
          {"width": 6, "height": 236, "data": {"values": []}, "mark": "point"}
        ]},
        {"spacing": 0, "bounds": "flush", "hconcat": [
          {"width": 18, "height": 2, "data": {"values": []}, "mark": "point"},
          {"width": 1317, "height": 2, "view": {"fill": "#6e6e6e"}, "data": {"values": []}, "mark": "point"},
          {"width": 6, "height": 2, "data": {"values": []}, "mark": "point"}
        ]},
        {"width": 1341, "height": 119,
         "data": {"values": [{"caption": "Desirability functions for different goals - how weights affect their shapes"}]},
         "mark": {"type": "text", "fontSize": 18.4, "color": "#1e1e1e", "dx": -38, "dy": 3.5, "baseline": "middle", "align": "center", "clip": true},
         "encoding": {
           "x": {"datum": 0.5, "type": "quantitative", "scale": {"domain": [0, 1]}, "axis": null},
           "y": {"datum": 0.5, "type": "quantitative", "scale": {"domain": [0, 1]}, "axis": null},
           "text": {"field": "caption", "type": "nominal"}
         }},
        {"spacing": 0, "bounds": "flush", "hconcat": [
          {"width": 51, "height": 166, "data": {"values": []}, "mark": "point"},
          {"width": 256, "height": 166, "title": {"text": "Minimize the response"},
           "encoding": {
             "x": {"field": "x", "type": "quantitative", "scale": {"domain": [-0.37, 1.37], "nice": false, "zero": false}, "axis": {"values": [0, 1], "labelExpr": "datum.value == 0 ? 'Target' : 'Upper'", "title": null}},
             "y": {"field": "d", "type": "quantitative", "scale": {"domain": [0, 1], "nice": false, "zero": false}, "axis": {"values": [0, 0.5, 1], "labelExpr": "datum.value == 1 ? '1' : (datum.value == 0 ? '0' : 'd')", "labelOffset": {"condition": [{"test": "datum.value == 1", "value": 12}, {"test": "datum.value == 0", "value": -4}], "value": 4}, "title": null}}
           },
           "layer": [
             {"data": {"name": "flat"}, "transform": [{"filter": "datum.p == 'min'"}], "mark": {"type": "line", "color": "#8e8e8e", "strokeWidth": 4.5}, "encoding": {"detail": {"field": "seg", "type": "nominal"}}},
             {"data": {"name": "curves"}, "transform": [{"filter": "datum.p == 'min'"}], "mark": {"type": "line", "color": "#9d9d9d", "strokeWidth": 2, "interpolate": "catmull-rom"}, "encoding": {"detail": [{"field": "w", "type": "nominal"}, {"field": "s", "type": "nominal"}], "order": {"field": "i", "type": "quantitative"}}},
             {"data": {"name": "labels"}, "transform": [{"filter": "datum.p == 'min'"}], "mark": {"type": "text", "fontSize": 19.5, "fill": "#f0f0f0", "stroke": "#f0f0f0", "strokeWidth": 7, "strokeJoin": "round"}, "encoding": {"text": {"field": "t", "type": "nominal"}}},
             {"data": {"name": "labels"}, "transform": [{"filter": "datum.p == 'min'"}], "mark": {"type": "text", "fontSize": 19.5, "color": "#999999"}, "encoding": {"text": {"field": "t", "type": "nominal"}}}
           ]},
          {"width": 204, "height": 166, "data": {"values": []}, "mark": "point"},
          {"width": 256, "height": 166, "title": {"text": "Hit a target value"},
           "encoding": {
             "x": {"field": "x", "type": "quantitative", "scale": {"domain": [-1.344, 1.323], "nice": false, "zero": false}, "axis": {"values": [-1, 0, 1], "labelExpr": "datum.value < -0.5 ? 'Lower' : (datum.value > 0.5 ? 'Upper' : 'Target')", "title": null}},
             "y": {"field": "d", "type": "quantitative", "scale": {"domain": [0, 1], "nice": false, "zero": false}, "axis": {"values": [0, 0.5, 1], "labelExpr": "datum.value == 1 ? '1' : (datum.value == 0 ? '0' : 'd')", "labelOffset": {"condition": [{"test": "datum.value == 1", "value": 12}, {"test": "datum.value == 0", "value": -4}], "value": 4}, "title": null}}
           },
           "layer": [
             {"data": {"name": "flat"}, "transform": [{"filter": "datum.p == 'tgt'"}], "mark": {"type": "line", "color": "#8e8e8e", "strokeWidth": 4.5}, "encoding": {"detail": {"field": "seg", "type": "nominal"}}},
             {"data": {"name": "curves"}, "transform": [{"filter": "datum.p == 'tgt'"}], "mark": {"type": "line", "color": "#9d9d9d", "strokeWidth": 2, "interpolate": "catmull-rom"}, "encoding": {"detail": [{"field": "w", "type": "nominal"}, {"field": "s", "type": "nominal"}], "order": {"field": "i", "type": "quantitative"}}},
             {"data": {"name": "labels"}, "transform": [{"filter": "datum.p == 'tgt'"}], "mark": {"type": "text", "fontSize": 19.5, "fill": "#f0f0f0", "stroke": "#f0f0f0", "strokeWidth": 7, "strokeJoin": "round"}, "encoding": {"text": {"field": "t", "type": "nominal"}}},
             {"data": {"name": "labels"}, "transform": [{"filter": "datum.p == 'tgt'"}], "mark": {"type": "text", "fontSize": 19.5, "color": "#999999"}, "encoding": {"text": {"field": "t", "type": "nominal"}}}
           ]},
          {"width": 204, "height": 166, "data": {"values": []}, "mark": "point"},
          {"width": 256, "height": 166, "title": {"text": "Maximize the response"},
           "encoding": {
             "x": {"field": "x", "type": "quantitative", "scale": {"domain": [-0.365, 1.365], "nice": false, "zero": false}, "axis": {"values": [0, 1], "labelExpr": "datum.value == 0 ? 'Lower' : 'Target'", "title": null}},
             "y": {"field": "d", "type": "quantitative", "scale": {"domain": [0, 1], "nice": false, "zero": false}, "axis": {"values": [0, 0.5, 1], "labelExpr": "datum.value == 1 ? '1' : (datum.value == 0 ? '0' : 'd')", "labelOffset": {"condition": [{"test": "datum.value == 1", "value": 12}, {"test": "datum.value == 0", "value": -4}], "value": 4}, "title": null}}
           },
           "layer": [
             {"data": {"name": "flat"}, "transform": [{"filter": "datum.p == 'max'"}], "mark": {"type": "line", "color": "#8e8e8e", "strokeWidth": 4.5}, "encoding": {"detail": {"field": "seg", "type": "nominal"}}},
             {"data": {"name": "curves"}, "transform": [{"filter": "datum.p == 'max'"}], "mark": {"type": "line", "color": "#9d9d9d", "strokeWidth": 2, "interpolate": "catmull-rom"}, "encoding": {"detail": [{"field": "w", "type": "nominal"}, {"field": "s", "type": "nominal"}], "order": {"field": "i", "type": "quantitative"}}},
             {"data": {"name": "labels"}, "transform": [{"filter": "datum.p == 'max'"}], "mark": {"type": "text", "fontSize": 19.5, "fill": "#f0f0f0", "stroke": "#f0f0f0", "strokeWidth": 7, "strokeJoin": "round"}, "encoding": {"text": {"field": "t", "type": "nominal"}}},
             {"data": {"name": "labels"}, "transform": [{"filter": "datum.p == 'max'"}], "mark": {"type": "text", "fontSize": 19.5, "color": "#999999"}, "encoding": {"text": {"field": "t", "type": "nominal"}}}
           ]},
          {"width": 114, "height": 166, "data": {"values": []}, "mark": "point"}
        ]},
        {"width": 1341, "height": 20, "data": {"values": []}, "mark": "point"}
      ]
    },
    {"width": 3, "height": 1587, "view": {"fill": "#ffffff"}, "data": {"values": []}, "mark": "point"}
  ]
}
